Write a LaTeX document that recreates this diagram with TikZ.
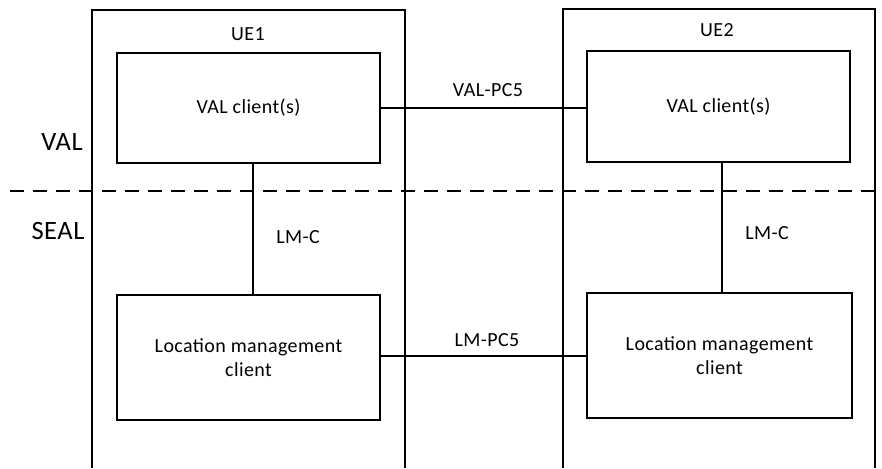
\documentclass[tikz,border=0pt]{standalone}
\usepackage{fontspec}
\setmainfont{Carlito}[LetterSpace=2]
\begin{document}
\begin{tikzpicture}[x=1pt,y=-1pt,
  line width=1.1pt,
  box/.style={draw,line width=1.1pt,minimum width=263pt,inner sep=0pt,align=center,font=\fontsize{20}{24}\selectfont},
  lbl/.style={font=\fontsize{20}{24}\selectfont,inner sep=0pt},
  layer/.style={font=\fontsize{26.5}{30}\selectfont,inner sep=0pt}]
\useasboundingbox (0,0) rectangle (882,468);
% UE containers (open at the bottom)
\draw (92,468) -- (92,10) -- (405,10) -- (405,468);
\draw (563,468) -- (563,9) -- (875,9) -- (875,468);
\node[lbl] (ue1) at (248,34) {UE1};
\node[lbl] (ue2) at (717,30) {UE2};
% layer separator
\draw[dash pattern=on 14pt off 9pt] (10,191) -- (882,191);
\node[layer] (val) at (62,142) {VAL};
\node[layer] (seal) at (58,231) {SEAL};
% boxes
\node[box,minimum height=110pt] (v1) at (248.5,108) {VAL client(s)};
\node[box,minimum height=111pt] (v2) at (718.5,106.5) {VAL client(s)};
\node[box,minimum height=125pt] (l1) at (248.5,357.5) {Location management\\client};
\node[box,minimum width=265pt,minimum height=125pt] (l2) at (719.5,355.5) {Location management\\client};
% connectors
\draw (v1.east) -- (v1.east -| v2.west);
\draw ([yshift=1.5pt]l1.east) -- ([yshift=1.5pt]l1.east -| l2.west);
\draw ([xshift=4.5pt]v1.south) -- ([xshift=4.5pt]v1.south |- l1.north);
\draw ([xshift=3.5pt]v2.south) -- ([xshift=3.5pt]v2.south |- l2.north);
% connector labels
\node[lbl] (pc5a) at (488,90) {VAL-PC5};
\node[lbl] (pc5b) at (487,340) {LM-PC5};
\node[lbl] (lmc1) at (298,237) {LM-C};
\node[lbl] (lmc2) at (767,233) {LM-C};
\end{tikzpicture}
\end{document}
